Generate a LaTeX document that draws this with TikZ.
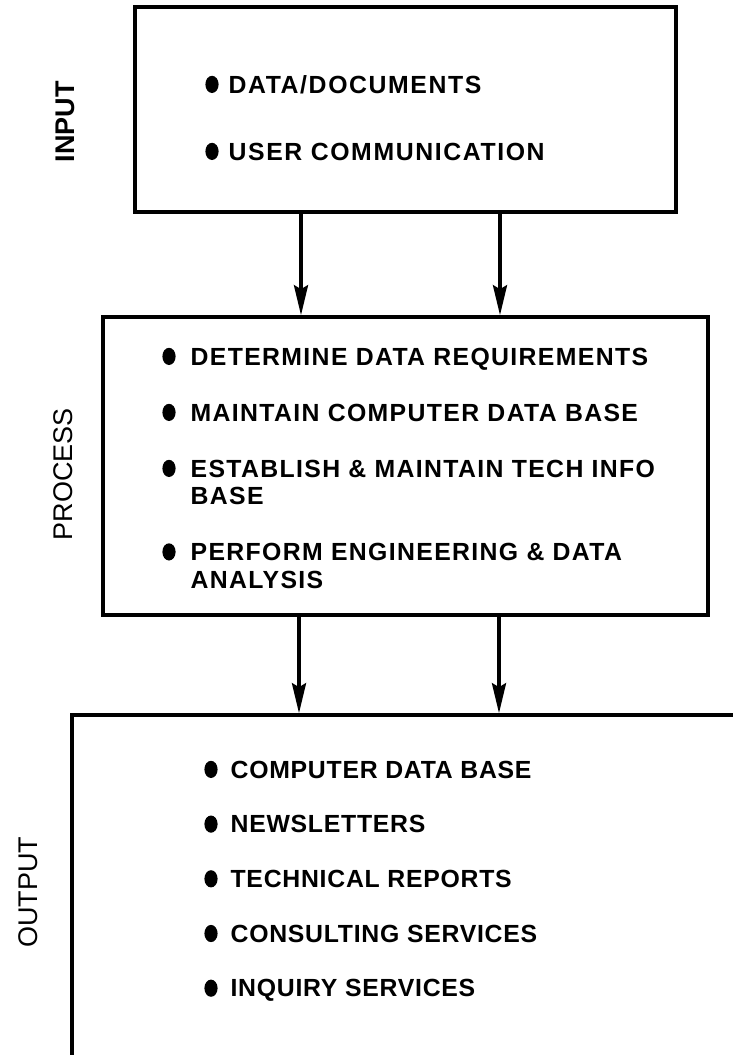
\documentclass[tikz,border=0pt]{standalone}
\usepackage{fontspec}
\setmainfont{Liberation Sans}
\usetikzlibrary{arrows.meta}
\tikzstyle{stagebox} = [draw, rectangle, line width=1.8pt, inner sep=0pt]
\tikzstyle{stagelabel} = [rotate=90, inner sep=0pt, font=\fontsize{13.5}{16}\selectfont]
\tikzstyle{itemlist} = [anchor=base west, inner sep=0pt, align=left]
\tikzstyle{flow} = [line width=1.8pt, -{Stealth[length=15pt, width=7pt, inset=2pt]}]
\newcommand{\blt}{\tikz[baseline=0pt]\fill (3.3pt,4.3pt) ellipse (3.3pt and 4.3pt);}
\newcommand{\itemfont}[1]{\fontsize{12.4}{13.75}\selectfont\bfseries\addfontfeature{LetterSpace=#1}}

\begin{document}
\begin{tikzpicture}[x=0.5pt, y=-0.5pt]
  \useasboundingbox[fill=white] (0,0) rectangle (733,1055);
  \clip (0,0) rectangle (733,1055);

  \node[stagebox, minimum width=270.5pt, minimum height=102.5pt] (inbox) at (405.5,109.5) {};
  \node[stagebox, minimum width=302.5pt, minimum height=149pt] (procbox) at (405.5,466) {};
  \node[stagebox, minimum width=364pt, minimum height=202.5pt] (outbox) at (436,917.5) {};

  \node[stagelabel] (inlabel) at (65,122) {\bfseries INPUT};
  \node[stagelabel] (proclabel) at (63,474) {PROCESS};
  \node[stagelabel] (outlabel) at (28,892) {OUTPUT};

  \node[itemlist] (initems) at (205,93) {\itemfont{6.5}%
    \begin{tabular}[t]{@{}l@{\hspace{5pt}}l@{}}
      \blt & DATA/DOCUMENTS\\[19.75pt]
      \blt & USER COMMUNICATION
    \end{tabular}};
  \node[itemlist] (procitems) at (162,365) {\itemfont{5.5}%
    \begin{tabular}[t]{@{}l@{\hspace{7.5pt}}l@{}}
      \blt & DETERMINE DATA REQUIREMENTS\\[14.25pt]
      \blt & MAINTAIN COMPUTER DATA BASE\\[14.25pt]
      \blt & ESTABLISH \& MAINTAIN TECH INFO\\
           & BASE\\[14.25pt]
      \blt & PERFORM ENGINEERING \& DATA\\
           & ANALYSIS
    \end{tabular}};
  \node[itemlist] (outitems) at (204,778) {\itemfont{3}%
    \begin{tabular}[t]{@{}l@{\hspace{6.5pt}}l@{}}
      \blt & COMPUTER DATA BASE\\[13.6pt]
      \blt & NEWSLETTERS\\[13.6pt]
      \blt & TECHNICAL REPORTS\\[13.6pt]
      \blt & CONSULTING SERVICES\\[13.6pt]
      \blt & INQUIRY SERVICES
    \end{tabular}};

  \coordinate (a1) at (301,0);
  \coordinate (a2) at (500,0);
  \coordinate (b1) at (299,0);
  \coordinate (b2) at (499,0);
  \draw[flow] (inbox.south -| a1) -- (procbox.north -| a1);
  \draw[flow] (inbox.south -| a2) -- (procbox.north -| a2);
  \draw[flow] (procbox.south -| b1) -- (outbox.north -| b1);
  \draw[flow] (procbox.south -| b2) -- (outbox.north -| b2);
\end{tikzpicture}
\end{document}
